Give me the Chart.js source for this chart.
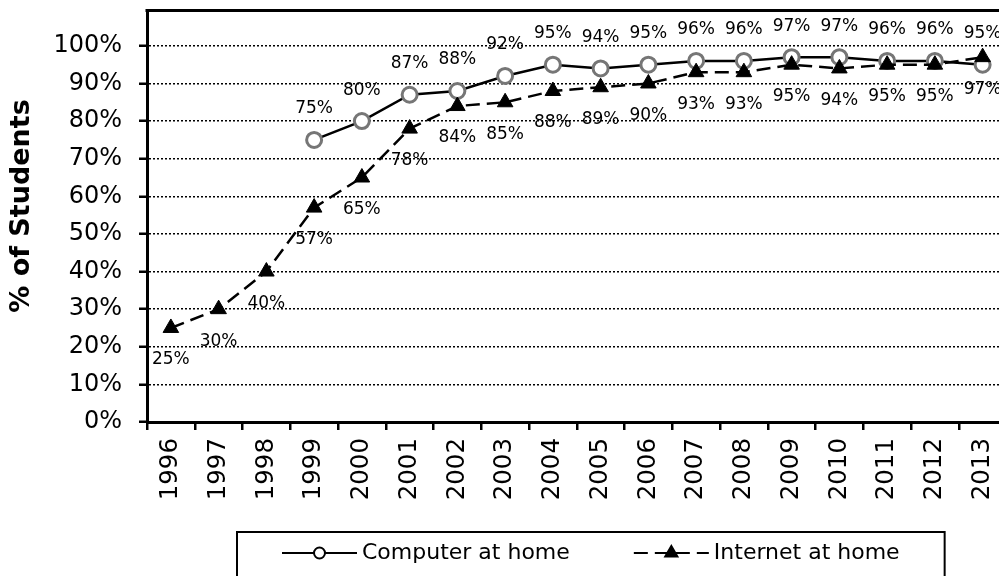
<!DOCTYPE html>
<html>
<head>
<meta charset="utf-8">
<script src="https://cdn.jsdelivr.net/npm/chart.js@4/dist/chart.umd.min.js"></script>
<style>
  html, body { margin: 0; padding: 0; background: #fff; overflow: hidden; }
  #wrap { width: 999px; height: 576px; overflow: hidden; position: relative; }
  #wrap canvas { display: block; }
</style>
</head>
<body>
<div id="wrap"><canvas id="chart" width="1017" height="576"></canvas></div>
<script>
// Survey years and shares of students (%)
const years = ['1996', '1997', '1998', '1999', '2000', '2001', '2002', '2003', '2004',
               '2005', '2006', '2007', '2008', '2009', '2010', '2011', '2012', '2013'];
const computerAtHome = [null, null, null, 75, 80, 87, 88, 92, 95, 94, 95, 96, 96, 97, 97, 96, 96, 95];
const internetAtHome = [25, 30, 40, 57, 65, 78, 84, 85, 88, 89, 90, 93, 93, 95, 94, 95, 95, 97];
const yTickValues = [0, 10, 20, 30, 40, 50, 60, 70, 80, 90, 100];
const seriesNames = ['Computer at home', 'Internet at home'];
const yAxisTitle = '% of Students';

const FONT = 'DejaVu Sans, Verdana, sans-serif';

// Value labels: above the computer series, below the internet series
const valueLabels = {
  id: 'valueLabels',
  afterDatasetsDraw(chart) {
    const ctx = chart.ctx;
    const shift = [-31, 32];
    ctx.save();
    ctx.font = '17px ' + FONT;
    ctx.fillStyle = '#000';
    ctx.textAlign = 'center';
    ctx.textBaseline = 'middle';
    chart.data.datasets.forEach((ds, i) => {
      const meta = chart.getDatasetMeta(i);
      meta.data.forEach((pt, j) => {
        const v = ds.data[j];
        if (v === null || v === undefined) return;
        ctx.fillText(v + '%', pt.x, pt.y + shift[i]);
      });
    });
    ctx.restore();
  }
};

// Frame line along the top of the plot area, plus the rotated axis title
const plotFrame = {
  id: 'plotFrame',
  afterDraw(chart) {
    const { ctx, chartArea: a } = chart;
    ctx.save();
    ctx.strokeStyle = '#000';
    ctx.lineWidth = 3;
    ctx.beginPath();
    ctx.moveTo(a.left - 1.5, a.top);
    ctx.lineTo(a.right, a.top);
    ctx.stroke();

    ctx.translate(22, 206);
    ctx.rotate(-Math.PI / 2);
    ctx.fillStyle = '#000';
    ctx.font = 'bold 27px ' + FONT;
    ctx.textAlign = 'center';
    ctx.textBaseline = 'middle';
    ctx.fillText(yAxisTitle, 0, 0);
    ctx.restore();
  }
};

// Boxed legend below the axis
const boxedLegend = {
  id: 'boxedLegend',
  afterDraw(chart) {
    const ctx = chart.ctx;
    const y = 553;
    const x0 = 237, pad = 45, sample = 75, gap = 5, spacing = 64;
    ctx.save();
    ctx.font = '22px ' + FONT;
    const w1 = ctx.measureText(seriesNames[0]).width;
    const w2 = ctx.measureText(seriesNames[1]).width;
    const s1 = x0 + pad;
    const t1 = s1 + sample + gap;
    const s2 = t1 + w1 + spacing;
    const t2 = s2 + sample + gap;
    const x1 = t2 + w2 + pad;

    ctx.strokeStyle = '#000';
    ctx.lineWidth = 2;
    ctx.strokeRect(x0, 532, x1 - x0, 60);

    // computer sample
    ctx.setLineDash([]);
    ctx.beginPath();
    ctx.moveTo(s1, y);
    ctx.lineTo(s1 + sample, y);
    ctx.stroke();
    ctx.fillStyle = '#fff';
    ctx.beginPath();
    ctx.arc(s1 + sample / 2, y, 5.5, 0, Math.PI * 2);
    ctx.fill();
    ctx.stroke();

    // internet sample
    ctx.setLineDash([14, 7]);
    ctx.beginPath();
    ctx.moveTo(s2, y);
    ctx.lineTo(s2 + sample, y);
    ctx.stroke();
    ctx.setLineDash([]);
    ctx.fillStyle = '#000';
    Chart.helpers.drawPoint(ctx, { pointStyle: 'triangle', radius: 7, rotation: 0, borderWidth: 1 }, s2 + sample / 2, y);

    ctx.fillStyle = '#000';
    ctx.textAlign = 'left';
    ctx.textBaseline = 'middle';
    ctx.fillText(seriesNames[0], t1, y);
    ctx.fillText(seriesNames[1], t2, y);
    ctx.restore();
  }
};

new Chart(document.getElementById('chart'), {
  type: 'line',
  data: {
    labels: years,
    datasets: [
      {
        label: seriesNames[0],
        data: computerAtHome,
        order: 1,
        borderColor: '#000',
        borderWidth: 2.5,
        pointStyle: 'circle',
        pointRadius: 7.5,
        pointBorderWidth: 3,
        pointBorderColor: '#767676',
        pointBackgroundColor: '#fff',
        spanGaps: false,
        tension: 0
      },
      {
        label: seriesNames[1],
        data: internetAtHome,
        order: 0,
        borderColor: '#000',
        borderWidth: 2.5,
        borderDash: [14, 7],
        pointStyle: 'triangle',
        pointRadius: 9,
        pointBorderWidth: 1,
        pointBorderColor: '#000',
        pointBackgroundColor: '#000',
        tension: 0
      }
    ]
  },
  options: {
    responsive: false,
    animation: false,
    layout: { padding: { left: 0, right: 5, top: 7, bottom: 0 } },
    plugins: {
      legend: { display: false },
      tooltip: { enabled: false }
    },
    scales: {
      x: {
        type: 'category',
        offset: true,
        grid: {
          offset: true,
          drawOnChartArea: false,
          drawTicks: true,
          tickLength: 8,
          color: '#000',
          lineWidth: 2.5
        },
        border: { display: true, color: '#000', width: 3 },
        ticks: {
          autoSkip: false,
          minRotation: 90,
          maxRotation: 90,
          padding: 8,
          color: '#000',
          font: { family: FONT, size: 24.5 }
        },
        afterFit(scale) {
          scale.height = 154;
          scale.paddingLeft = 0;
          scale.paddingRight = 0;
        }
      },
      y: {
        min: 0,
        max: 109.4,
        afterBuildTicks(scale) {
          scale.ticks = yTickValues.map(v => ({ value: v }));
        },
        grid: {
          drawOnChartArea: true,
          drawTicks: true,
          tickLength: 8,
          color: '#000',
          lineWidth: 1.5,
          tickWidth: 2.5,
          tickBorderDash: []
        },
        border: { display: true, color: '#000', width: 3, dash: [2, 2] },
        ticks: {
          padding: 17,
          color: '#000',
          font: { family: FONT, size: 24 },
          callback: v => v + '%'
        },
        title: { display: false },
        afterFit(scale) {
          scale.width = 147;
          scale.paddingTop = 0;
          scale.paddingBottom = 0;
        }
      }
    }
  },
  plugins: [valueLabels, plotFrame, boxedLegend]
});
</script>
</body>
</html>
